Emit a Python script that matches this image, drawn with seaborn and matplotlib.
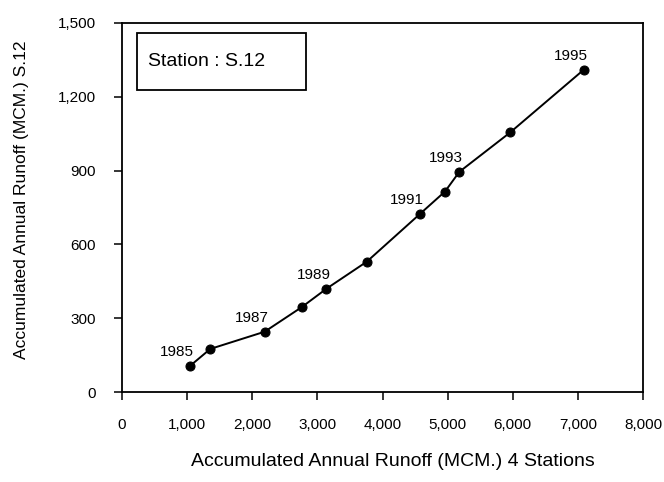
import matplotlib
matplotlib.use("Agg")
import matplotlib.pyplot as plt
import seaborn as sns
import pandas as pd
from matplotlib.patches import Rectangle

# ---- data ----
years = [1985, 1986, 1987, 1988, 1989, 1990, 1991, 1992, 1993, 1994, 1995]
runoff_4_stations = [1040, 1355, 2190, 2760, 3140, 3760, 4580, 4960, 5180, 5960, 7090]
runoff_s12 = [105, 175, 245, 345, 420, 530, 725, 815, 895, 1055, 1310]
labelled_years = [1985, 1987, 1989, 1991, 1993, 1995]
x_ticks = [0, 1000, 2000, 3000, 4000, 5000, 6000, 7000, 8000]
y_ticks = [0, 300, 600, 900, 1200, 1500]
station_text = "Station : S.12"
x_title = "Accumulated Annual Runoff (MCM.) 4 Stations"
y_title = "Accumulated Annual Runoff (MCM.) S.12"

df = pd.DataFrame({"year": years, "x": runoff_4_stations, "y": runoff_s12})

sns.set_theme(style="ticks")
plt.rcParams["font.family"] = ["Liberation Sans", "DejaVu Sans"]

fig = plt.figure(figsize=(6.64, 4.82), dpi=100)
ax = fig.add_axes([122 / 664, 1 - 392 / 482, (643 - 122) / 664, (392 - 23) / 482])

sns.lineplot(data=df, x="x", y="y", ax=ax, color="black", linewidth=1.4,
             marker="o", markersize=6.5, markeredgecolor="black",
             markerfacecolor="black", sort=False)

for yr, xv, yv in zip(years, runoff_4_stations, runoff_s12):
    if yr in labelled_years:
        ax.annotate(str(yr), (xv, yv), xytext=(-13, 14), textcoords="offset pixels",
                    ha="center", va="center", fontsize=11, color="black")

ax.set_xlim(x_ticks[0], x_ticks[-1])
ax.set_ylim(y_ticks[0], y_ticks[-1])
ax.set_xticks(x_ticks)
ax.set_yticks(y_ticks)
ax.set_xticklabels([f"{v:,}" for v in x_ticks])
ax.set_yticklabels([f"{v:,}" for v in y_ticks])

ax.tick_params(axis="both", direction="out", length=6, width=1.1, color="black",
               labelsize=11, labelcolor="black")
ax.tick_params(axis="x", pad=13)
ax.tick_params(axis="y", pad=13)

for s in ax.spines.values():
    s.set_visible(True)
    s.set_color("black")
    s.set_linewidth(1.3)

ax.set_xlabel(x_title, fontsize=14, color="black")
ax.set_ylabel(y_title, fontsize=12.5, color="black")
ax.xaxis.set_label_coords(0.52, -0.165)
ax.yaxis.set_label_coords(-0.178, 0.52)

box = Rectangle((0.029, 0.818), 0.325, 0.155, transform=ax.transAxes,
                fill=False, edgecolor="black", linewidth=1.3)
ax.add_patch(box)
ax.text(0.05, 0.895, station_text, transform=ax.transAxes, fontsize=14,
        ha="left", va="center", color="black")

fig.savefig("out.png", dpi=100, facecolor="white")
